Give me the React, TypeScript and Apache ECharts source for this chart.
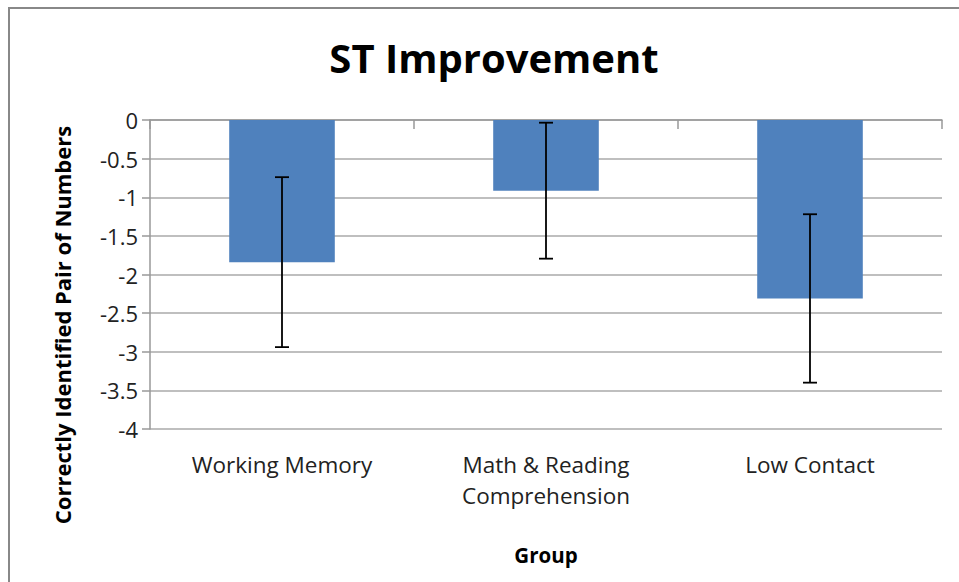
import React, { useEffect, useRef } from "react";
import * as echarts from "echarts";

const categories = ["Working Memory", "Math & Reading\nComprehension", "Low Contact"];
const means = [-1.84, -0.915, -2.31];
const errors = [1.1, 0.88, 1.09];
const yTicks = { min: -4, max: 0, interval: 0.5 };

export default function App() {
  const ref = useRef<HTMLDivElement>(null);
  useEffect(() => {
    document.body.style.margin = "0";
    const chart = echarts.init(ref.current!, null, { renderer: "svg" });
    const font = "'Open Sans', 'Noto Sans', sans-serif";
    const errData = means.map((m, i) => [i, m + errors[i], m - errors[i]]);
    chart.setOption({
      animation: false,
      backgroundColor: "#fff",
      title: {
        text: "ST Improvement",
        left: 489,
        textAlign: "center",
        top: 32,
        textStyle: { fontSize: 40, fontWeight: "bold", color: "#000", fontFamily: font },
      },
      grid: { left: 150, top: 120, width: 792, height: 309 },
      xAxis: [
        {
          type: "category",
          data: categories,
          position: "bottom",
          axisLine: { show: false, onZero: false },
          axisTick: { show: false },
          splitLine: { show: false },
          axisLabel: { fontSize: 22.5, color: "#222", fontFamily: font, margin: 20, lineHeight: 31 },
          name: "Group",
          nameLocation: "middle",
          nameGap: 115,
          nameTextStyle: { fontSize: 20.5, fontWeight: "bold", color: "#000", fontFamily: font },
        },
        {
          type: "category",
          data: categories,
          position: "top",
          axisLine: { show: true, lineStyle: { color: "#999", width: 1.5 } },
          axisTick: { show: true, inside: true, length: 9, lineStyle: { color: "#999", width: 1.5 } },
          axisLabel: { show: false },
          splitLine: { show: false },
        },
      ],
      yAxis: {
        type: "value",
        min: yTicks.min,
        max: yTicks.max,
        interval: yTicks.interval,
        axisLine: { show: true, lineStyle: { color: "#999", width: 1.5 } },
        axisTick: { show: true, length: 8, lineStyle: { color: "#999", width: 1.5 } },
        splitLine: { show: true, lineStyle: { color: "#aaa", width: 1.5 } },
        axisLabel: { fontSize: 22, color: "#222", fontFamily: font, margin: 12 },
      },
      graphic: [
        {
          type: "rect",
          shape: { x: 9, y: 8, width: 960, height: 590 },
          style: { fill: "none", stroke: "#888", lineWidth: 2 },
          silent: true,
        },
        {
          type: "text",
          x: 62,
          y: 325,
          rotation: Math.PI / 2,
          style: {
            text: "Correctly Identified Pair of Numbers",
            fontSize: 22,
            fontWeight: "bold",
            fill: "#000",
            fontFamily: font,
            align: "center",
            verticalAlign: "middle",
          },
        },
      ],
      series: [
        {
          type: "bar",
          data: means,
          barWidth: "40%",
          itemStyle: { color: "#4F81BD" },
          xAxisIndex: 0,
        },
        {
          type: "custom",
          xAxisIndex: 0,
          data: errData,
          z: 5,
          renderItem: (params: any, api: any) => {
            const x = api.value(0);
            const top = api.coord([x, api.value(1)]);
            const bot = api.coord([x, api.value(2)]);
            const hw = 7;
            const st = { stroke: "#000", lineWidth: 1.8 };
            return {
              type: "group",
              children: [
                { type: "line", shape: { x1: top[0], y1: top[1], x2: bot[0], y2: bot[1] }, style: st },
                { type: "line", shape: { x1: top[0] - hw, y1: top[1], x2: top[0] + hw, y2: top[1] }, style: st },
                { type: "line", shape: { x1: bot[0] - hw, y1: bot[1], x2: bot[0] + hw, y2: bot[1] }, style: st },
              ],
            };
          },
        },
      ],
    });
    return () => chart.dispose();
  }, []);
  return <div ref={ref} style={{ width: 959, height: 582 }} />;
}
